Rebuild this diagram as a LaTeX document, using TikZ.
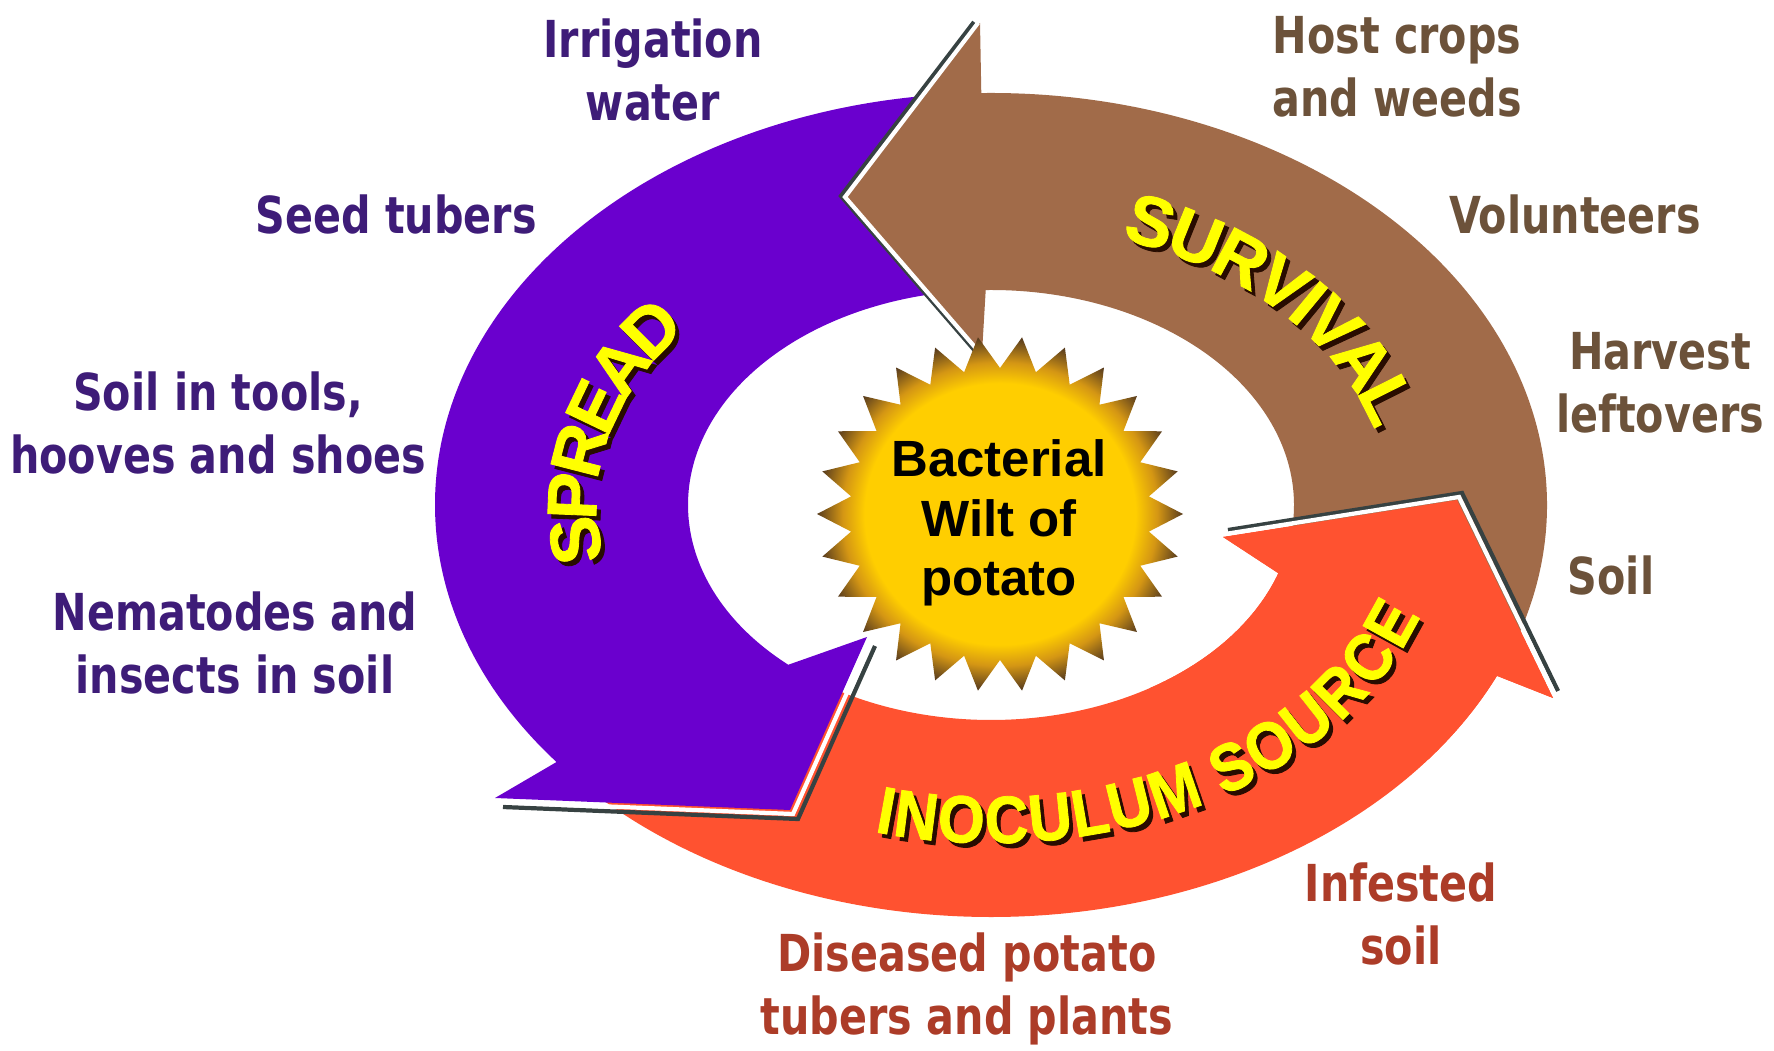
\documentclass[tikz,border=0pt]{standalone}
\usepackage{fontspec}
\usetikzlibrary{calc,decorations.text}
\newfontfamily\labelfont[FakeStretch=0.81]{DejaVu Sans}
\newfontfamily\corefont{Liberation Sans}
\newfontfamily\ringfont[FakeBold=1.2]{Liberation Sans}
\newfontfamily\ringnarrow[FakeBold=1.2,FakeStretch=0.9]{Liberation Sans}
\newcommand{\ringtype}{\ringfont\bfseries\fontsize{20}{24}\selectfont}
\newcommand{\inoctype}{\ringnarrow\bfseries\fontsize{19}{23}\selectfont}

\definecolor{spreadcol}{RGB}{106,0,206}
\definecolor{survcol}{RGB}{161,107,73}
\definecolor{inoccol}{RGB}{255,82,48}
\definecolor{sunyellow}{RGB}{255,255,0}
\definecolor{shadowtxt}{RGB}{40,12,0}
\definecolor{txtpurple}{RGB}{62,28,120}
\definecolor{txtbrown}{RGB}{108,82,58}
\definecolor{txtred}{RGB}{172,60,40}
\definecolor{edgegray}{RGB}{55,66,66}
\definecolor{burstgold}{RGB}{255,206,0}
\definecolor{burstamber}{RGB}{212,150,20}
\definecolor{burstbrown}{RGB}{88,60,30}
\pgfdeclareradialshading{burst}{\pgfpoint{0bp}{0bp}}{color(0bp)=(burstgold); color(18.5bp)=(burstgold); color(21.5bp)=(burstamber); color(25bp)=(burstbrown); color(50bp)=(burstbrown)}

% ring outlines: outer 556 x 412, inner 303 x 215, both round (c)
\newcommand{\spreadpath}{($(c)+(268:556 and 412)$) arc[start angle=268,end angle=141.4,x radius=556,y radius=412]
  -- (495,798) -- (790,810) -- (867,637)
  -- ($(c)+(132:303 and 215)$) arc[start angle=132,end angle=268,x radius=303,y radius=215] -- cycle}
\newcommand{\survpath}{($(c)+(19:556 and 412)$) arc[start angle=19,end angle=-91,x radius=556,y radius=412]
  -- (980,23) -- (847,197) -- (982,353)
  -- ($(c)+(-91:303 and 215)$) arc[start angle=-91,end angle=8,x radius=303,y radius=215] -- cycle}
\newcommand{\inocpath}{($(c)+(135:556 and 412)$) arc[start angle=135,end angle=24.5,x radius=556,y radius=412]
  -- (1553,698) -- (1457,500) -- (1223,537)
  -- ($(c)+(18.5:303 and 215)$) arc[start angle=18.5,end angle=125,x radius=303,y radius=215] -- cycle}

\begin{document}
\begin{tikzpicture}[
  x=0.1mm, y=-0.1mm,
  spreadlbl/.style={align=center,inner sep=0pt,text=txtpurple,
                    font=\labelfont\bfseries\fontsize{14.5}{18}\selectfont},
  survlbl/.style={spreadlbl,text=txtbrown},
  inoclbl/.style={spreadlbl,text=txtred},
  core/.style={align=center,inner sep=0pt,font=\corefont\bfseries\fontsize{14.5}{17}\selectfont},
  rimdark/.style={edgegray,line width=1.2pt},
  rimwhite/.style={white,line width=1.2pt}
]
\useasboundingbox (0,0) rectangle (1774,1051);
\clip (0,0) rectangle (1774,1051);
\coordinate (c) at (991,505);

% arrows: red first, purple head sits on its tail
\fill[inoccol] \inocpath;
\fill[spreadcol] \spreadpath;
\draw[rimdark,shift={(8,9)}] (495,798) -- (790,810) -- (867,637);
\draw[rimwhite,shift={(3,4)}] (495,798) -- (790,810) -- (867,637);
\fill[survcol] \survpath;
\draw[rimdark,shift={(-6,-1)}] (980,23) -- (847,197) -- (982,353);
\draw[rimwhite,shift={(-2,0)}] (980,23) -- (847,197) -- (982,353);
% red head once more, over the brown tail
\begin{scope}
  \clip (1150,430) rectangle (1640,760);
  \fill[inoccol] \inocpath;
\end{scope}
\draw[rimdark,shift={(5,-7)}] (1223,537) -- (1457,500) -- (1553,698);
\draw[rimwhite,shift={(2,-3)}] (1223,537) -- (1457,500) -- (1553,698);

% starburst, 26 spikes
\begin{scope}[shift={(1000,514)}]
  \shade[shading=burst] (0:183 and 178)
    \foreach \k [evaluate=\k as \sx using {183-33*mod(\k,2)},
                 evaluate=\k as \sy using {178-32*mod(\k,2)},
                 evaluate=\k as \ang using {6.9231*\k}] in {1,...,51}
      { -- (\ang:{\sx} and {\sy}) } -- cycle;
\end{scope}
\node[core] (wilt) at (999,523) {Bacterial\\Wilt of\\potato};

% ring titles, dark copy first
\foreach \dx/\dy/\tc in {0.4mm/-0.45mm/shadowtxt, 0mm/0mm/sunyellow}{
  \begin{scope}[transform canvas={shift={(\dx,\dy)}}]
    \path[decorate,decoration={text along path,text={|\ringtype|SPREAD},
          text color=\tc,text align=center,raise=-10pt}]
      ($(c)+(147:429.5 and 313.5)$) arc[start angle=147,end angle=239,x radius=429.5,y radius=313.5];
    \path[decorate,decoration={text along path,text={|\ringtype|SURVIVAL},
          text color=\tc,text align=center,raise=-9pt}]
      ($(c)+(-90:429.5 and 313.5)$) arc[start angle=-90,end angle=9,x radius=429.5,y radius=313.5];
    \path[decorate,decoration={text along path,text={|\inoctype|INOCULUM SOURCE},
          text color=\tc,text align=center,raise=-7pt}]
      ($(c)+(117:429.5 and 313.5)$) arc[start angle=117,end angle=3,x radius=429.5,y radius=313.5];
  \end{scope}
}

% labels round the ring
\node[spreadlbl] (irrig) at (653,70) {Irrigation\\water};
\node[spreadlbl] (seed) at (396,215) {Seed tubers};
\node[spreadlbl] (tools) at (218,423) {Soil in tools,\\hooves and shoes};
\node[spreadlbl] (nema) at (235,643) {Nematodes and\\insects in soil};
\node[survlbl] (host) at (1397,67) {Host crops\\and weeds};
\node[survlbl] (volun) at (1575,215) {Volunteers};
\node[survlbl] (harvest) at (1660,383) {Harvest\\leftovers};
\node[survlbl] (soil) at (1611,576) {Soil};
\node[inoclbl] (infest) at (1401,914) {Infested\\soil};
\node[inoclbl] (diseased) at (967,989) {Diseased potato\\tubers and plants};
\end{tikzpicture}
\end{document}
